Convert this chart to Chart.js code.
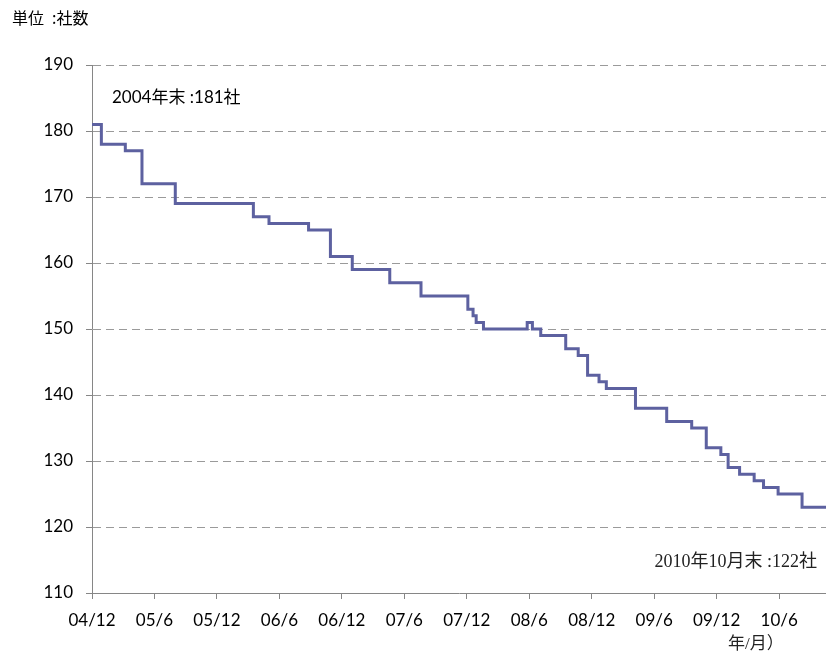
<!DOCTYPE html>
<html>
<head>
<meta charset="utf-8">
<script src="https://cdn.jsdelivr.net/npm/chart.js@4"></script>
<style>
  body { margin: 0; background: #fff; }
</style>
</head>
<body>
<canvas id="myChart" width="826" height="655"></canvas>
<script>
// months since 2004/12 where the count changes, and the count from that point on
const changeMonths = [0, 0.9, 3.2, 4.8, 8.0, 15.5, 17.0, 20.8, 22.9, 25.0, 28.6, 31.6, 36.1, 36.6, 36.9,
  37.6, 41.8, 42.3, 43.1, 45.5, 46.7, 47.6, 48.7, 49.4, 52.2, 55.2, 57.6, 59.0, 60.4, 61.1, 62.2,
  63.6, 64.5, 65.9, 68.2, 70.5];
const companyCounts = [181, 178, 177, 172, 169, 167, 166, 165, 161, 159, 157, 155, 153, 152, 151,
  150, 151, 150, 149, 147, 146, 143, 142, 141, 138, 136, 135, 132, 131, 129,
  128, 127, 126, 125, 123, 123];
const tickLabels = ['04/12', '05/6', '05/12', '06/6', '06/12', '07/6', '07/12', '08/6', '08/12', '09/6', '09/12', '10/6'];
const yTicks = [110, 120, 130, 140, 150, 160, 170, 180, 190];

const axisGray = '#868686';

const notes = {
  id: 'notes',
  afterDraw(chart) {
    const ctx = chart.ctx;
    ctx.save();
    ctx.fillStyle = '#000';
    ctx.textBaseline = 'middle';
    ctx.font = '16px "Noto Sans CJK JP"';
    ctx.fillText('単位\u2002:社数', 12, 18);
    ctx.font = '17px Lato, "Noto Sans CJK JP"';
    ctx.fillText('2004年末 :181社', 112, 98);
    ctx.font = '18px "Liberation Serif", "Noto Sans CJK JP"';
    ctx.fillStyle = '#222';
    ctx.textAlign = 'right';
    ctx.fillText('2010年10月末 :122社', 817, 562);
    ctx.textAlign = 'left';
    ctx.font = '17px "Liberation Serif", "Noto Sans CJK JP"';
    ctx.fillText('年/月）', 728, 645);
    ctx.restore();
  }
};

const data = {
  datasets: [{
    label: '社数',
    data: changeMonths.map((m, i) => ({ x: m, y: companyCounts[i] })),
    borderColor: '#5D61A0',
    borderWidth: 3,
    pointRadius: 0,
    stepped: true,
    fill: false
  }]
};

const config = {
  type: 'line',
  data: data,
  options: {
    responsive: false,
    animation: false,
    layout: { padding: { top: 65, right: 0, left: 0, bottom: 0 } },
    plugins: {
      legend: { display: false },
      tooltip: { enabled: false }
    },
    scales: {
      x: {
        type: 'linear',
        min: 0,
        max: 70.5,
        afterBuildTicks: s => { s.ticks = tickLabels.map((_, i) => ({ value: i * 6 })); },
        afterFit: s => { s.height = 62; },
        ticks: {
          autoSkip: false,
          maxRotation: 0,
          padding: 11,
          color: '#000',
          font: { family: 'Lato', size: 17 },
          callback: v => tickLabels[Math.round(v / 6)]
        },
        grid: { drawOnChartArea: false, drawTicks: true, tickLength: 6, tickColor: axisGray },
        border: { display: true, color: axisGray, width: 1 }
      },
      y: {
        min: 110,
        max: 190,
        afterBuildTicks: s => { s.ticks = yTicks.map(v => ({ value: v })); },
        afterFit: s => { s.width = 92; },
        ticks: {
          padding: 13,
          color: '#000',
          font: { family: 'Lato', size: 17 }
        },
        grid: {
          color: c => (c.tick && c.tick.value === 110 ? 'rgba(0,0,0,0)' : '#9a9a9a'),
          tickColor: axisGray,
          tickLength: 6,
          tickBorderDash: []
        },
        border: { display: true, color: axisGray, width: 1, dash: [8, 5] }
      }
    }
  },
  plugins: [notes]
};

const myChart = new Chart(document.getElementById('myChart'), config);
</script>
</body>
</html>
